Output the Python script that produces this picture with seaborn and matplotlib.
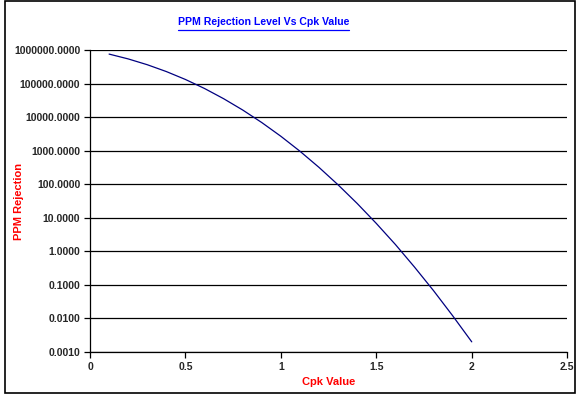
import numpy as np
import pandas as pd
import matplotlib
matplotlib.use('Agg')
import matplotlib.pyplot as plt
import seaborn as sns
from matplotlib.ticker import FixedLocator, FuncFormatter
from matplotlib.patches import Rectangle
from matplotlib.lines import Line2D

# Values
cpk = [0.1, 0.2, 0.3, 0.4, 0.5, 0.6, 0.7, 0.8, 0.9, 1.0,
       1.1, 1.2, 1.3, 1.4, 1.5, 1.6, 1.7, 1.8, 1.9, 2.0]
ppm = [764000, 548500, 368000, 230000, 133600, 71900, 35700, 16400, 6930, 2700,
       967, 318, 96, 26.7, 6.8, 1.6, 0.34, 0.067, 0.012, 0.002]
y_ticks = [0.001, 0.01, 0.1, 1, 10, 100, 1000, 10000, 100000, 1000000]
x_ticks = [0, 0.5, 1, 1.5, 2, 2.5]
x_labels = ['0', '0.5', '1', '1.5', '2', '2.5']

df = pd.DataFrame({'Cpk': cpk, 'PPM': ppm})

sns.set_style('white')
plt.rcParams['font.family'] = ['Liberation Sans', 'DejaVu Sans']

fig = plt.figure(figsize=(5.77, 3.95), dpi=100)
ax = fig.add_axes([0.156, 0.109, 0.827, 0.764])

sns.lineplot(data=df, x='Cpk', y='PPM', ax=ax, color='#000080', linewidth=0.9)
ax.set_yscale('log')
ax.set_ylim(0.001, 1000000)
ax.set_xlim(0, 2.5)

ax.yaxis.set_major_locator(FixedLocator(y_ticks))
ax.yaxis.set_minor_locator(FixedLocator([]))
ax.yaxis.set_major_formatter(FuncFormatter(lambda v, p: f'{v:.4f}'))
ax.set_xticks(x_ticks)
ax.set_xticklabels(x_labels)

ax.grid(axis='y', color='black', linewidth=0.9)
ax.set_axisbelow(True)
for s in ['top', 'right']:
    ax.spines[s].set_visible(False)
for s in ['left', 'bottom']:
    ax.spines[s].set_color('black')
    ax.spines[s].set_linewidth(0.9)

ax.tick_params(axis='both', direction='out', length=4, width=0.9, color='black',
               labelsize=7.5, pad=3, bottom=True, left=True)
for lab in ax.get_xticklabels() + ax.get_yticklabels():
    lab.set_fontweight('bold')

ax.set_xlabel('Cpk Value', color='red', fontweight='bold', fontsize=8)
ax.set_ylabel('PPM Rejection', color='red', fontweight='bold', fontsize=8)
ax.xaxis.set_label_coords(0.5, -0.083)
ax.yaxis.set_label_coords(-0.138, 0.5)

title = fig.text(0.457, 0.944, 'PPM Rejection Level Vs Cpk Value', color='blue',
                 fontweight='bold', fontsize=7.6, ha='center', va='center')

# underline the title
fig.canvas.draw()
bb = title.get_window_extent().transformed(fig.transFigure.inverted())
fig.add_artist(Line2D([bb.x0, bb.x1], [bb.y0 - 0.007, bb.y0 - 0.007],
                      transform=fig.transFigure, color='blue', linewidth=0.9))

# frame around the chart
fig.add_artist(Rectangle((0.008, 0.005), 0.988, 0.993, transform=fig.transFigure,
                         fill=False, edgecolor='black', linewidth=1.2))

fig.savefig('out.png', dpi=100)
